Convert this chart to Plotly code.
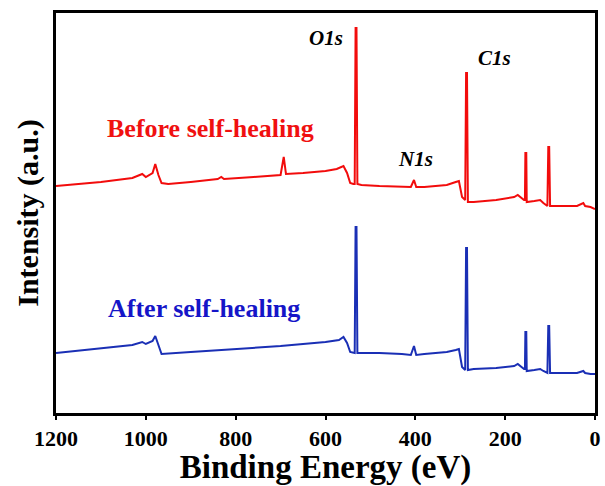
import plotly.graph_objects as go

# Binding energy (eV) and intensity (a.u.)
energy_before = [1200, 1100, 1030, 1008, 1000, 985, 979, 972, 965, 950, 900, 840, 832, 826, 760, 700,
                 693, 688, 650, 600, 575, 560, 552, 545, 538, 535, 533, 531, 529, 520, 480, 430, 410,
                 403, 398, 380, 330, 310, 303, 296, 291, 289, 287, 285, 283, 270, 220, 180, 172, 165,
                 158, 156, 155, 153, 152, 135, 122, 115, 108, 106, 104, 102, 100, 60, 40, 26, 22, 10, 0]
intensity_before = [227, 231, 235, 239, 236, 240, 249, 238, 230, 229, 231, 234, 236, 234, 236, 238,
                    256, 239, 240, 242, 244, 247, 240, 230, 229, 229, 385, 385, 229, 228, 227, 226, 226,
                    233, 226, 226, 228, 231, 232, 216, 213, 213, 340, 340, 211, 211, 213, 216, 218, 215,
                    213, 213, 260, 260, 211, 212, 213, 210, 207, 207, 266, 266, 207, 207, 207, 210, 207, 206, 204]

energy_after = [1200, 1100, 1030, 1008, 1000, 985, 979, 972, 965, 900, 800, 700, 600, 570, 560, 552,
                545, 538, 535, 533, 531, 529, 520, 480, 430, 410, 403, 398, 380, 330, 310, 303, 296,
                291, 289, 287, 285, 283, 270, 220, 180, 172, 165, 158, 156, 155, 153, 152, 135, 122,
                115, 108, 106, 104, 102, 100, 60, 40, 26, 22, 10, 0]
intensity_after = [60, 65, 68, 71, 69, 72, 77, 68, 59, 61, 64, 67, 71, 73, 76, 70,
                   61, 60, 60, 186, 186, 60, 60, 60, 59, 58, 67, 58, 59, 61, 63, 64, 46,
                   43, 43, 165, 165, 43, 44, 45, 47, 49, 46, 44, 44, 81, 81, 42, 43, 44,
                   42, 40, 40, 87, 87, 40, 40, 40, 42, 40, 39, 39]

x_ticks = [1200, 1000, 800, 600, 400, 200, 0]

RED = "#f20c0c"
BLUE = "#1a2fb5"
SERIF = "Liberation Serif"

fig = go.Figure()
fig.add_trace(go.Scatter(x=energy_before, y=intensity_before, mode="lines",
                         line=dict(color=RED, width=2), showlegend=False))
fig.add_trace(go.Scatter(x=energy_after, y=intensity_after, mode="lines",
                         line=dict(color=BLUE, width=2), showlegend=False))

fig.update_layout(
    width=605, height=486,
    margin=dict(l=56, r=4, t=13, b=73),
    plot_bgcolor="white", paper_bgcolor="white",
    font=dict(family=SERIF, color="black"),
    xaxis=dict(range=[1200, 0], tickvals=x_ticks, ticktext=[str(v) for v in x_ticks],
               showgrid=False, zeroline=False, showline=True, linecolor="black", linewidth=3,
               mirror=True, ticks="outside", ticklen=4, tickwidth=2, tickcolor="black",
               ticklabeloverflow="allow",
               tickfont=dict(family=SERIF, size=22, color="black", weight="bold"),
               title=dict(text="<b>Binding Energy (eV)</b>", font=dict(family=SERIF, size=33), standoff=2)),
    yaxis=dict(range=[0, 400], showgrid=False, zeroline=False, showline=True, linecolor="black",
               linewidth=3, mirror=True, ticks="", showticklabels=False,
               title=dict(text="<b>Intensity (a.u.)</b>", font=dict(family=SERIF, size=30), standoff=6)),
)

annotations = [
    dict(x=856, y=285, text="<b>Before self-healing</b>", font=dict(family=SERIF, size=26, color="#f01010")),
    dict(x=871, y=105, text="<b>After self-healing</b>", font=dict(family=SERIF, size=26, color="#1515c8")),
    dict(x=599, y=375, text="<b><i>O1s</i></b>", font=dict(family=SERIF, size=21, color="black")),
    dict(x=224, y=355, text="<b><i>C1s</i></b>", font=dict(family=SERIF, size=21, color="black")),
    dict(x=399, y=254, text="<b><i>N1s</i></b>", font=dict(family=SERIF, size=21, color="black")),
]
for a in annotations:
    fig.add_annotation(xref="x", yref="y", showarrow=False, **a)

fig.write_html("out.html")
